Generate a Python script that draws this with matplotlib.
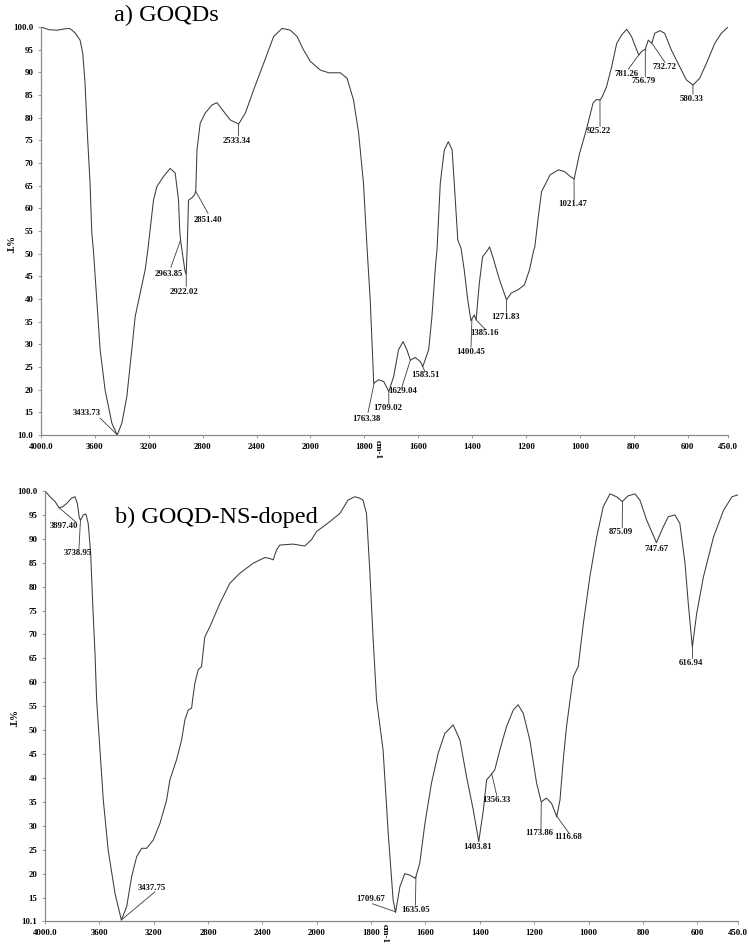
import matplotlib

matplotlib.use("Agg")
import matplotlib.pyplot as plt
import numpy as np
from matplotlib.ticker import FixedLocator, FixedFormatter

# ---- data (wavenumber cm-1, %T) ----
wn_a = [4000, 3940, 3880, 3820, 3790, 3770, 3747, 3710, 3690, 3673, 3656, 3636, 3623,
        3611, 3586, 3561, 3524, 3474, 3434, 3400, 3363, 3326, 3301, 3264, 3227, 3207,
        3165, 3140, 3091, 3041, 3004, 2979, 2970, 2964, 2950, 2930, 2922, 2914, 2905,
        2880, 2860, 2851, 2842, 2818, 2781, 2731, 2694, 2645, 2595, 2533, 2483, 2422,
        2347, 2273, 2210, 2149, 2099, 2050, 2000, 1963, 1932, 1889, 1864, 1840, 1821,
        1803, 1790, 1778, 1765, 1747, 1728, 1709, 1691, 1673, 1656, 1642, 1629, 1611,
        1592, 1583, 1561, 1549, 1536, 1530, 1518, 1503, 1488, 1474, 1466, 1453, 1441,
        1429, 1416, 1404, 1392, 1385, 1373, 1361, 1342, 1335, 1323, 1298, 1272, 1255,
        1230, 1206, 1187, 1171, 1167, 1154, 1142, 1110, 1079, 1057, 1035, 1021, 1014,
        1001, 976, 951, 939, 925, 917, 901, 882, 863, 845, 826, 808, 796, 781, 771,
        757, 746, 733, 722, 703, 685, 660, 629, 604, 580, 555, 530, 499, 475, 450]
t_a = [100.0, 99.4, 99.3, 99.6, 99.7, 99.3, 98.7, 97.1, 94.2, 87.6, 76.6, 65.6, 54.6,
       50.8, 39.8, 28.8, 19.9, 12.6, 10.0, 12.6, 18.4, 28.8, 36.1, 41.3, 46.4, 50.8,
       61.8, 64.8, 67.0, 68.8, 67.8, 61.8, 55.0, 53.0, 50.0, 46.0, 45.5, 52.0, 61.8,
       62.3, 63.0, 63.8, 72.9, 78.8, 81.0, 82.8, 83.3, 81.4, 79.5, 78.6, 81.0, 86.1,
       92.0, 97.9, 99.7, 99.3, 97.9, 94.9, 92.4, 90.5, 89.9, 89.9, 88.7, 83.9, 76.6,
       65.5, 51.5, 39.8, 21.4, 22.2, 21.8, 19.6, 22.9, 28.8, 30.6, 28.8, 26.5, 27.1,
       26.2, 25.1, 28.8, 36.1, 47.1, 51.0, 65.5, 72.9, 74.7, 72.9, 65.5, 53.0, 51.2,
       46.4, 39.8, 35.2, 36.5, 35.4, 43.5, 49.3, 50.8, 51.5, 49.3, 44.2, 39.8, 41.3,
       42.0, 43.1, 46.4, 50.8, 51.5, 58.2, 63.7, 67.4, 68.5, 68.1, 67.0, 66.5, 68.5,
       72.1, 77.3, 83.2, 84.0, 83.9, 84.6, 86.8, 91.2, 96.4, 98.2, 99.5, 97.9, 96.0,
       93.8, 94.6, 95.1, 97.1, 96.4, 98.6, 99.2, 98.6, 94.9, 91.2, 88.3, 87.2, 88.7,
       92.0, 96.4, 98.6, 100.0]

wn_b = [4000, 3963, 3926, 3897, 3870, 3840, 3804, 3779, 3762, 3748, 3739, 3718, 3699,
        3682, 3664, 3649, 3632, 3620, 3596, 3571, 3535, 3485, 3438, 3399, 3362, 3326,
        3289, 3252, 3204, 3154, 3105, 3081, 3032, 2995, 2971, 2946, 2921, 2914, 2897,
        2873, 2848, 2824, 2787, 2713, 2640, 2566, 2468, 2382, 2346, 2321, 2296, 2272,
        2174, 2088, 2039, 2002, 1952, 1915, 1885, 1860, 1842, 1830, 1817, 1805, 1793,
        1780, 1756, 1737, 1719, 1710, 1694, 1676, 1658, 1637, 1621, 1602, 1578, 1553,
        1529, 1498, 1473, 1449, 1424, 1404, 1387, 1375, 1360, 1345, 1326, 1302, 1277,
        1259, 1240, 1216, 1191, 1174, 1155, 1136, 1117, 1105, 1093, 1081, 1068, 1056,
        1038, 1019, 995, 970, 946, 921, 897, 876, 854, 829, 811, 786, 750, 725, 707,
        682, 664, 645, 633, 618, 602, 577, 540, 503, 472, 450]
t_b = [100.0, 98.8, 97.8, 96.5, 96.7, 97.4, 98.5, 98.8, 97.4, 94.5, 93.9, 95.0, 95.2,
       93.2, 87.0, 76.5, 66.0, 56.3, 45.9, 35.4, 24.9, 15.9, 10.3, 13.1, 19.4, 23.5,
       25.3, 25.3, 27.0, 30.5, 35.4, 39.6, 43.8, 47.9, 52.1, 54.2, 54.6, 56.3, 59.8,
       62.6, 63.3, 69.5, 71.6, 76.5, 80.7, 82.8, 84.9, 86.1, 85.9, 85.6, 87.7, 88.7,
       88.9, 88.5, 89.8, 91.5, 93.6, 95.3, 98.1, 98.8, 98.5, 98.1, 95.3, 83.5, 69.5,
       56.3, 45.9, 28.4, 14.5, 11.9, 17.3, 20.0, 19.7, 19.0, 22.2, 30.5, 38.9, 45.2,
       49.3, 51.1, 47.9, 40.3, 33.3, 26.7, 33.3, 39.6, 40.6, 41.7, 45.9, 50.7, 54.2,
       55.3, 53.5, 47.9, 38.9, 35.0, 35.8, 34.7, 31.9, 35.4, 43.8, 50.7, 56.3, 61.2,
       63.3, 72.3, 82.1, 90.4, 96.7, 99.4, 98.8, 97.8, 99.0, 99.4, 98.1, 93.9, 89.2,
       92.5, 94.6, 95.0, 93.2, 84.9, 76.5, 67.4, 74.4, 82.1, 90.4, 96.0, 98.8, 99.2]

peaks_a = [3433.73, 2963.85, 2922.02, 2851.40, 2533.34, 1763.38, 1709.02, 1629.04,
           1583.51, 1400.45, 1385.16, 1271.83, 1021.47, 925.22, 781.26, 756.79, 732.72,
           580.33]
peaks_b = [3897.40, 3738.95, 3437.75, 1709.67, 1635.05, 1403.81, 1356.33, 1173.86,
           1116.68, 875.09, 747.67, 616.94]

xticks = [4000, 3600, 3200, 2800, 2400, 2000, 1800, 1600, 1400, 1200, 1000, 800, 600, 450]
xticklabels = ["4000.0", "3600", "3200", "2800", "2400", "2000", "1800", "1600", "1400",
               "1200", "1000", "800", "600", "450.0"]

# label layout: (line end wn, line end %T, text wn, text %T); None = no leader
layout_a = [
    (3561, 13.7, 3660, 14.8),
    (3036, 47.0, 3054, 45.5),
    (2922, 42.8, 2937, 41.6),
    (2760, 58.9, 2760, 57.4),
    (2533, 76.0, 2545, 74.9),
    (1786, 15.0, 1793, 13.6),
    (1709, 16.8, 1713, 15.9),
    (1661, 20.5, 1657, 19.6),
    (1575, 24.0, 1574, 23.2),
    (1404, 29.4, 1404, 28.4),
    (1351, 33.3, 1354, 32.4),
    (1272, 37.1, 1276, 36.1),
    (1021, 61.9, 1025, 61.0),
    (925, 78.1, 928, 77.1),
    (820, 90.7, 826, 89.6),
    (757, 89.0, 762, 88.1),
    (684, 92.2, 684, 91.2),
    (580, 85.2, 584, 84.1),
]
layout_b = [
    (3772, 93.5, 3859, 92.7),
    (3750, 88.0, 3757, 87.1),
    (3191, 16.2, 3210, 17.1),
    (1795, 13.7, 1801, 14.7),
    (1637, 13.4, 1637, 12.5),
    (None, None, 1409, 25.6),
    (1338, 36.4, 1340, 35.5),
    (1175, 29.2, 1180, 28.4),
    (1071, 28.4, 1076, 27.6),
    (876, 92.3, 880, 91.4),
    (None, None, 751, 87.8),
    (618, 65.0, 622, 64.1),
]


def fwd(x):
    x = np.asarray(x, dtype=float)
    return np.where(x >= 2000, x, 2 * x - 2000)


def inv(t):
    t = np.asarray(t, dtype=float)
    return np.where(t >= 2000, t, (t + 2000) / 2)


SERIF = ["Liberation Serif", "DejaVu Serif"]
LINE = "#3c3c3c"
SPINE = "#8a8a8a"

fig = plt.figure(figsize=(7.49, 9.44), dpi=100)
W, H = 749, 944


def panel(rect_px, wn, t, peaks, layout, ymin, ylabels, cm_y):
    x0, y0, x1, y1 = rect_px
    ax = fig.add_axes([x0 / W, 1 - y1 / H, (x1 - x0) / W, (y1 - y0) / H])
    ax.set_xscale("function", functions=(fwd, inv))
    ax.plot(wn, t, color=LINE, lw=0.75)
    ax.set_xlim(4000, 450)
    ax.set_ylim(ymin, 100)
    ax.xaxis.set_major_locator(FixedLocator(xticks))
    ax.xaxis.set_major_formatter(FixedFormatter(xticklabels))
    ax.xaxis.set_minor_locator(FixedLocator([]))
    yt = [100, 95, 90, 85, 80, 75, 70, 65, 60, 55, 50, 45, 40, 35, 30, 25, 20, 15, ymin]
    ax.yaxis.set_major_locator(FixedLocator(yt))
    ax.yaxis.set_major_formatter(FixedFormatter(ylabels))
    for s in ("top", "right"):
        ax.spines[s].set_visible(False)
    for s in ("left", "bottom"):
        ax.spines[s].set_color(SPINE)
        ax.spines[s].set_linewidth(0.9)
    ax.tick_params(axis="both", length=2, width=0.6, color=SPINE, pad=3.5)
    for lbl in ax.get_xticklabels() + ax.get_yticklabels():
        lbl.set_family(SERIF)
        lbl.set_fontweight("bold")
        lbl.set_fontsize(6.3)
    ax.patch.set_visible(False)

    wr, tr = wn[::-1], t[::-1]
    for p, (lx, ly, tx, ty) in zip(peaks, layout):
        py = float(np.interp(p, wr, tr))
        if lx is not None:
            ax.plot([p, lx], [py, ly], color=LINE, lw=0.6, clip_on=False)
        ax.text(tx, ty, f"{p:.2f}", ha="center", va="center", fontsize=6.3,
                fontweight="bold", family=SERIF, color="#111111")
    # "cm-1" unit sits just under the axis, near 1750 cm-1
    fig.text((x0 + 0.49 * (x1 - x0)) / W, 1 - cm_y / H, "cm-1", rotation=270,
             ha="center", va="center", fontsize=6.5, fontweight="bold", family=SERIF)
    return ax


yl_a = ["100.0", "95", "90", "85", "80", "75", "70", "65", "60", "55", "50", "45", "40",
        "35", "30", "25", "20", "15", "10.0"]
yl_b = yl_a[:-1] + ["10.1"]

panel((41, 27, 728, 435), wn_a, t_a, peaks_a, layout_a, 10.0, yl_a, 450)
panel((45, 491, 738, 921), wn_b, t_b, peaks_b, layout_b, 10.1, yl_b, 933)

fig.text(166 / W, 1 - 21 / H, "a) GOQDs", ha="center", va="baseline", fontsize=17.5,
         family=SERIF)
fig.text(216 / W, 1 - 523 / H, "b) GOQD-NS-doped", ha="center", va="baseline",
         fontsize=17.5, family=SERIF)
fig.text(7 / W, 1 - 245 / H, "%T", rotation=270, ha="center", va="center", fontsize=7,
         fontweight="bold", family=SERIF)
fig.text(10 / W, 1 - 719 / H, "%T", rotation=270, ha="center", va="center", fontsize=7,
         fontweight="bold", family=SERIF)

fig.savefig("out.png", dpi=100, facecolor="white")
